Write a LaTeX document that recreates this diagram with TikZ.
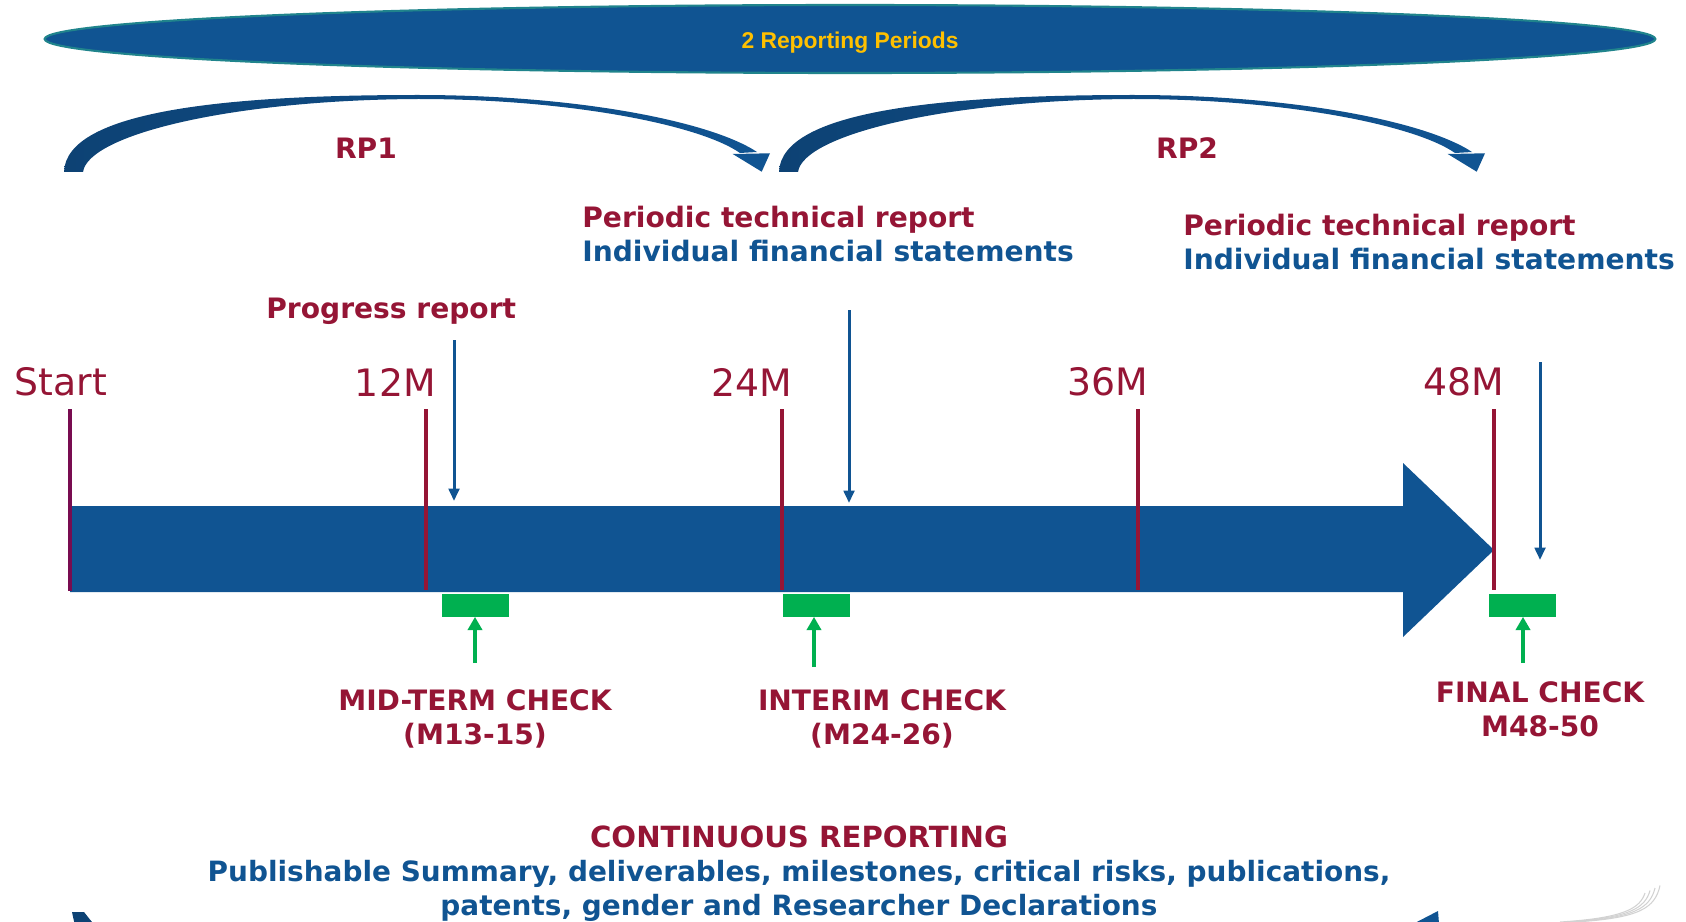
\documentclass[tikz,border=0pt]{standalone}
\usepackage{fontspec}
\setmainfont{DejaVu Sans}
\newfontfamily\arialfont{Liberation Sans}
\usetikzlibrary{arrows.meta,shapes.geometric}

\definecolor{repred}{RGB}{149,21,53}
\definecolor{repblue}{RGB}{16,84,146}
\definecolor{arcdark}{RGB}{13,66,116}
\definecolor{startpurple}{RGB}{120,12,80}
\definecolor{checkgreen}{RGB}{0,176,80}
\definecolor{periodgold}{RGB}{255,192,0}
\definecolor{rimteal}{RGB}{32,132,140}

\begin{document}
\begin{tikzpicture}[x=0.02cm, y=-0.02cm,
    lbl/.style={font=\bfseries\fontsize{16}{19.3}\selectfont, text=repred, inner sep=0pt},
    month/.style={font=\fontsize{21.5}{24}\selectfont, text=repred, inner sep=0pt},
    tickline/.style={line width=2.8pt, draw=repred},
    docarrow/.style={line width=1.7pt, draw=repblue, -{Triangle[length=7pt,width=6pt]}},
    checkbox/.style={fill=checkgreen, minimum width=1.34cm, minimum height=0.46cm, inner sep=0pt},
    checkarrow/.style={line width=2.4pt, draw=checkgreen, -{Triangle[length=7.5pt,width=8pt]}}]
    \useasboundingbox (0,0) rectangle (1686,922);

    % Reporting periods banner
    \node[ellipse, draw=rimteal, line width=1.2pt, fill=repblue,
          minimum width=32.22cm, minimum height=1.36cm, inner sep=0pt,
          font=\arialfont\bfseries\fontsize{13}{15}\selectfont, text=periodgold]
          (periods) at (850,39) {\raisebox{-0.2cm}[0pt][0pt]{2 Reporting Periods}};

    % Curved arrows for RP1 and RP2
    \foreach \dx in {0,715} {
        \begin{scope}[shift={(\dx,0)}]
            \shade[left color=arcdark, right color=repblue]
                (64,172) .. controls (66,110) and (230,95) .. (418,95)
                .. controls (580,95) and (712,122) .. (757,152)
                -- (740,153) .. controls (700,125) and (570,99) .. (418,99)
                .. controls (230,100) and (88,135) .. (83,172) -- cycle;
            \fill[repblue] (732.7,154) -- (770,153.3) -- (761.7,171.7) -- cycle;
        \end{scope}
    }
    \node[lbl] (rp1) at (366,148) {RP1};
    \node[lbl] (rp2) at (1187,148) {RP2};

    % Deliverables at the end of each period
    \node[lbl, anchor=west, align=left] (ptr1) at (582,234)
        {Periodic technical report\\\textcolor{repblue}{Individual financial statements}};
    \node[lbl, anchor=west, align=left] (ptr2) at (1183,242)
        {Periodic technical report\\\textcolor{repblue}{Individual financial statements}};
    \node[lbl, anchor=west] (progress) at (266,311) {Progress report};

    % Timeline bar
    \fill[repblue] (70,506) -- (1403,506) -- (1403,463) -- (1494,550)
        -- (1403,637) -- (1403,592) -- (70,592) -- cycle;

    % Month marks
    \node[month] (lstart) at (61,382) {Start};
    \draw[tickline, draw=startpurple] (70,409) -- (70,591);
    \foreach \name/\x/\lab in {t12/426/12M, t24/782/24M, t36/1138/36M, t48/1494/48M} {
        \node[month, anchor=east] (l\name) at (\x+10,382) {\lab};
        \coordinate (\name a) at (\x,409);
        \coordinate (\name b) at (\x,590);
        \draw[tickline] (\name a) -- (\name b);
    }

    % Reports arrive
    \coordinate (prtop) at (454,340);
    \coordinate (prend) at (454,501);
    \coordinate (p1top) at (849,310);
    \coordinate (p1end) at (849,503);
    \coordinate (p2top) at (1540,362);
    \coordinate (p2end) at (1540,560);
    \draw[docarrow] (prtop) -- (prend);
    \draw[docarrow] (p1top) -- (p1end);
    \draw[docarrow] (p2top) -- (p2end);

    % Checks
    \node[checkbox] (midbox) at (475.5,605) {};
    \node[checkbox] (intbox) at (816.5,605) {};
    \node[checkbox] (finbox) at (1522.5,605) {};

    \node[lbl, align=center] (midlbl) at (475,719) {MID-TERM CHECK\\(M13-15)};
    \node[lbl, align=center] (intlbl) at (882,719) {INTERIM CHECK\\(M24-26)};
    \node[lbl, align=center] (finlbl) at (1540,709) {FINAL CHECK\\M48-50};

    \coordinate (midfoot) at (475,663);
    \coordinate (intfoot) at (814,667);
    \coordinate (finfoot) at (1523,663);
    \draw[checkarrow] (midfoot) -- (midbox.south -| midfoot);
    \draw[checkarrow] (intfoot) -- (intbox.south -| intfoot);
    \draw[checkarrow] (finfoot) -- (finbox.south -| finfoot);

    % Continuous reporting
    \node[lbl, align=center] (contin) at (799,874)
        {{\fontsize{16.6}{19.3}\selectfont CONTINUOUS REPORTING}\\
         \textcolor{repblue}{\fontsize{15.9}{19.3}\selectfont Publishable Summary, deliverables, milestones, critical risks, publications,}\\
         \textcolor{repblue}{\fontsize{15.9}{19.3}\selectfont patents, gender and Researcher Declarations}};

    % Lower arc, mostly cut off
    \begin{scope}
        \clip (0,0) rectangle (1686,922);
        \fill[arcdark] (72,912) .. controls (80,950) .. (200,975)
            -- (200,958) .. controls (110,945) .. (84,912) -- cycle;
        \fill[repblue] (1438,911) -- (1380,941) -- (1441,950) -- cycle;
        % logo trace
        \foreach \o in {0,5,10,15} {
            \draw[gray!35, line width=0.6pt] (1560+\o,922) .. controls (1625+\o,918) and (1640+\o,908) .. (1645+\o,893-\o/2);
        }
    \end{scope}
\end{tikzpicture}
\end{document}
